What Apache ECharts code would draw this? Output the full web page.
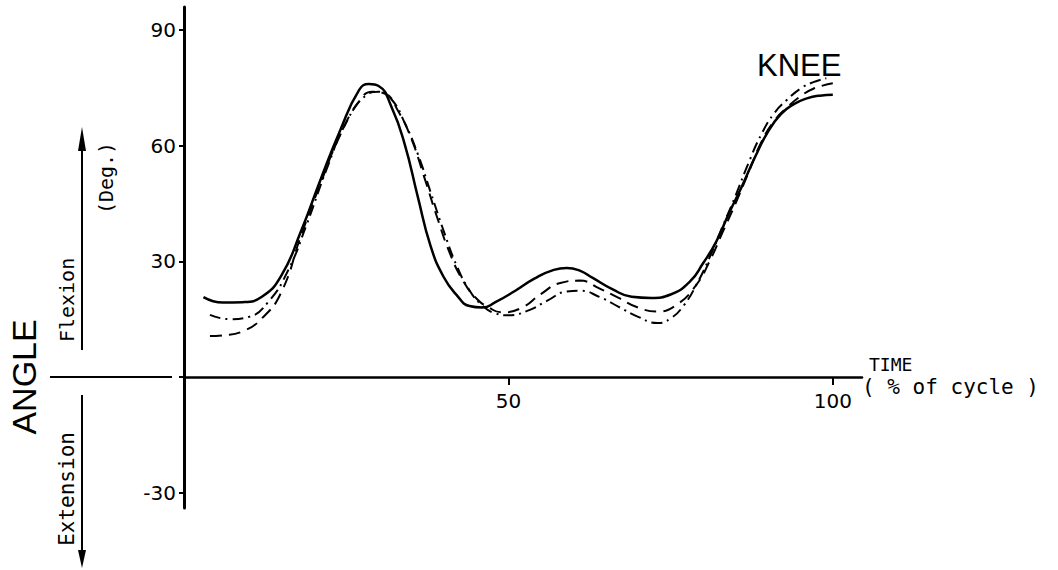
<!DOCTYPE html>
<html>
<head>
<meta charset="utf-8">
<title>KNEE</title>
<script src="https://cdn.jsdelivr.net/npm/echarts@6/dist/echarts.min.js"></script>
<style>
html, body { margin: 0; padding: 0; background: #fff; }
#chartLine { width: 1058px; height: 570px; }
</style>
</head>
<body>
<div id="chartLine"></div>
<script>
// solid trace
var solidTime = [3, 6, 9, 12, 15, 18, 21, 24, 27, 28.5, 30, 32, 34, 36, 38, 40, 42, 44, 46, 48, 51, 54, 57, 59, 61, 63, 66, 69, 72, 75, 78, 80, 82, 84, 86, 88, 90, 92, 94, 96, 98, 100];
var solidAngle = [20.7, 19.3, 19.4, 20.8, 26.3, 37.7, 51, 63.7, 74.5, 76, 75.5, 70, 60.5, 47, 34, 26, 21.3, 18.4, 18, 19.4, 22.3, 25.5, 27.8, 28.3, 27.6, 25.7, 22.8, 20.8, 20.5, 21.4, 24.8, 29.5, 35, 42.5, 49.5, 57, 63.6, 68.2, 70.8, 72.3, 73, 73.2];
// dashed trace
var dashTime = [4, 6, 9, 12, 15, 18, 21, 24, 27, 29, 31, 33, 35, 37, 39, 41, 43, 45, 47, 49, 52, 55, 58, 61, 64, 67, 70, 73, 76, 79, 81, 83, 85, 87, 89, 91, 93, 95, 97, 100];
var dashAngle = [10.6, 10.8, 11.8, 15.2, 22, 36.5, 50, 62.5, 71.5, 74, 73.5, 69, 62, 52, 41.5, 32, 25, 20.5, 18, 16.8, 17.9, 21.5, 24.4, 25, 23, 20.5, 18, 17, 18.8, 24, 30, 37.5, 45, 53, 61, 66.5, 70, 72.8, 74.8, 76.2];
// dash-dot trace
var dotTime = [4, 7, 10, 13, 16, 19, 22, 25, 28, 30, 32, 34, 36, 38, 40, 42, 44, 46, 48, 50, 53, 56, 59, 61, 64, 67, 70, 73, 75, 77, 79, 81, 83, 85, 87, 89, 91, 93, 95, 97, 99];
var dotAngle = [16.1, 15, 15.6, 19.5, 27.5, 40, 54, 66, 73, 74, 72, 66, 58, 48, 38, 29, 22.5, 18.5, 16.5, 16, 17.2, 19.8, 22.2, 22.4, 20.8, 18.2, 15.6, 14, 15.2, 18.5, 24, 31, 39, 47, 55.5, 63, 68.5, 72, 74.8, 76.5, 77.5];

var yTicks = [-30, 0, 30, 60, 90];
var yLabels = [-30, 30, 60, 90];
var xTicks = [50, 100];
var yMin = -34;

function pairs(xs, ys) {
  return xs.map(function(x, i) { return [x, ys[i]]; });
}

var mono = "DejaVu Sans Mono";
var chartLine = echarts.init(document.getElementById("chartLine"), null, { renderer: "svg" });

chartLine.setOption({
  animation: false,
  backgroundColor: "#fff",
  title: {
    text: "KNEE",
    left: 757,
    top: 50,
    padding: 0,
    textStyle: { fontSize: 31, fontWeight: "normal", fontFamily: "Liberation Sans", color: "#000" }
  },
  grid: { left: 184, right: 196, top: 7, bottom: 62 },
  xAxis: {
    type: "value",
    min: 0,
    max: 104.5,
    name: "{a|TIME}\n{b|( % of cycle )}",
    nameLocation: "end",
    nameGap: 0,
    nameTextStyle: {
      align: "left",
      verticalAlign: "middle",
      rich: {
        a: { color: "#000", fontFamily: mono, fontSize: 18, lineHeight: 20, padding: [0, 0, 0, 7] },
        b: { color: "#000", fontFamily: mono, fontSize: 21, lineHeight: 24 }
      }
    },
    axisLine: { onZero: false, lineStyle: { color: "#000", width: 2.5 } },
    axisTick: { customValues: xTicks, length: 8, lineStyle: { color: "#000", width: 2 } },
    axisLabel: { customValues: xTicks, color: "#000", fontFamily: "DejaVu Sans", fontSize: 20, margin: 14 },
    splitLine: { show: false }
  },
  yAxis: {
    type: "value",
    min: yMin,
    max: 96,
    axisLine: { show: true, lineStyle: { color: "#000", width: 3 } },
    axisTick: { show: true, customValues: yTicks, length: 5, lineStyle: { color: "#000", width: 2 } },
    axisLabel: { customValues: yLabels, color: "#000", fontFamily: "DejaVu Sans", fontSize: 20, margin: 8 },
    splitLine: { show: false }
  },
  series: [
    {
      name: "solid",
      type: "line",
      data: pairs(solidTime, solidAngle),
      smooth: true,
      showSymbol: false,
      lineStyle: { color: "#000", width: 2.5 }
    },
    {
      name: "dashed",
      type: "line",
      data: pairs(dashTime, dashAngle),
      smooth: true,
      showSymbol: false,
      lineStyle: { color: "#000", width: 2, type: [12, 7] }
    },
    {
      name: "dashdot",
      type: "line",
      data: pairs(dotTime, dotAngle),
      smooth: true,
      showSymbol: false,
      lineStyle: { color: "#000", width: 2, type: [11, 5, 2, 5] }
    }
  ]
});

// move the time axis up onto the zero angle line
var y0 = chartLine.convertToPixel({ yAxisIndex: 0 }, 0);
var yBottom = chartLine.convertToPixel({ yAxisIndex: 0 }, yMin);
var x0 = chartLine.convertToPixel({ xAxisIndex: 0 }, 0);
var ax = 82;
chartLine.setOption({
  xAxis: { offset: -(yBottom - y0) },
  // left side annotation
  graphic: [
    { type: "line", shape: { x1: 50, y1: y0, x2: x0 - 12, y2: y0 }, style: { stroke: "#000", lineWidth: 2 } },
    { type: "line", shape: { x1: ax, y1: y0 - 27, x2: ax, y2: y0 - 235 }, style: { stroke: "#000", lineWidth: 2 } },
    { type: "polygon", shape: { points: [[ax, y0 - 250], [ax - 4, y0 - 226], [ax + 4, y0 - 226]] }, style: { fill: "#000" } },
    { type: "line", shape: { x1: ax, y1: y0 + 18, x2: ax, y2: y0 + 178 }, style: { stroke: "#000", lineWidth: 2 } },
    { type: "polygon", shape: { points: [[ax, y0 + 191], [ax - 4, y0 + 173], [ax + 4, y0 + 173]] }, style: { fill: "#000" } },
    { type: "text", x: 24, y: y0, rotation: Math.PI / 2,
      style: { text: "ANGLE", fontSize: 34, fontFamily: "Liberation Sans", fill: "#000", align: "center", verticalAlign: "middle" } },
    { type: "text", x: 67, y: y0 - 77, rotation: Math.PI / 2,
      style: { text: "Flexion", fontSize: 20, fontFamily: mono, fill: "#000", align: "center", verticalAlign: "middle" } },
    { type: "text", x: 106, y: y0 - 199, rotation: Math.PI / 2,
      style: { text: "(Deg.)", fontSize: 20, fontFamily: mono, fill: "#000", align: "center", verticalAlign: "middle" } },
    { type: "text", x: 67, y: y0 + 112, rotation: Math.PI / 2,
      style: { text: "Extension", fontSize: 21, fontFamily: mono, fill: "#000", align: "center", verticalAlign: "middle" } }
  ]
});
</script>
</body>
</html>
